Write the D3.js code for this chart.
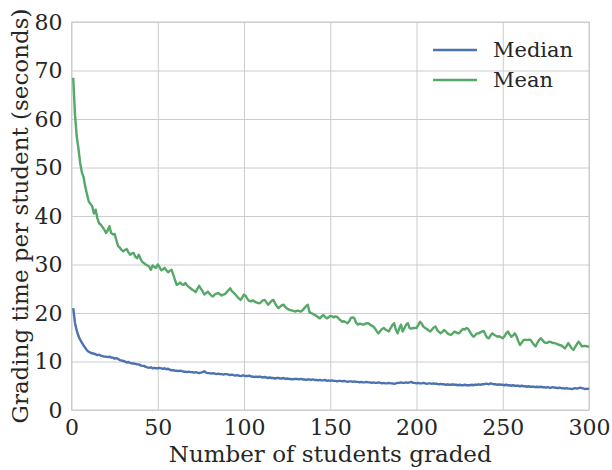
<!DOCTYPE html>
<html>
<head>
<meta charset="utf-8">
<script src="https://cdn.jsdelivr.net/npm/d3@7"></script>
<style>
  body { margin: 0; background: #fff; }
  svg text { font-family: "DejaVu Serif", serif; fill: #262626; }
</style>
</head>
<body>
<div id="chart"></div>
<script>
// Grading time per student (seconds), one value per student graded (1..300)
const medianTime = [
  21.0, 18.0, 16.4, 15.3, 14.5, 13.9, 13.3, 12.8, 12.3, 12.0,
  11.8, 11.7, 11.6, 11.5, 11.3, 11.4, 11.2, 11.1, 11.0, 11.0,
  10.9, 11.0, 10.8, 10.8, 10.6, 10.7, 10.5, 10.3, 10.2, 10.1,
  10.0, 9.8, 9.9, 9.7, 9.6, 9.6, 9.5, 9.4, 9.4, 9.2,
  9.1, 9.1, 8.9, 8.8, 8.7, 8.8, 8.6, 8.7, 8.6, 8.6,
  8.7, 8.6, 8.5, 8.6, 8.4, 8.5, 8.3, 8.2, 8.2, 8.1,
  8.1, 8.0, 8.1, 8.0, 7.9, 7.9, 7.8, 7.9, 7.8, 7.8,
  7.7, 7.8, 7.7, 7.6, 7.7, 7.8, 8.0, 7.7, 7.6, 7.6,
  7.5, 7.6, 7.5, 7.4, 7.5, 7.4, 7.4, 7.3, 7.4, 7.4,
  7.3, 7.2, 7.3, 7.2, 7.1, 7.2, 7.1, 7.0, 7.1, 7.1,
  7.0, 7.0, 7.1, 6.9, 6.9, 6.8, 6.9, 6.8, 6.9, 6.8,
  6.7, 6.8, 6.7, 6.6, 6.7, 6.6, 6.6, 6.5, 6.6, 6.6,
  6.5, 6.5, 6.6, 6.4, 6.5, 6.4, 6.4, 6.3, 6.4, 6.4,
  6.4, 6.3, 6.4, 6.3, 6.3, 6.2, 6.3, 6.3, 6.2, 6.3,
  6.2, 6.2, 6.1, 6.2, 6.1, 6.1, 6.2, 6.0, 6.1, 6.0,
  6.1, 6.0, 6.0, 5.9, 6.0, 6.0, 5.9, 6.0, 5.9, 5.8,
  5.9, 5.9, 5.8, 5.9, 5.8, 5.8, 5.7, 5.8, 5.7, 5.7,
  5.8, 5.7, 5.7, 5.6, 5.7, 5.6, 5.6, 5.7, 5.6, 5.5,
  5.6, 5.5, 5.5, 5.6, 5.5, 5.5, 5.4, 5.5, 5.6, 5.6,
  5.7, 5.6, 5.6, 5.7, 5.6, 5.7, 5.8, 5.6, 5.6, 5.5,
  5.6, 5.5, 5.5, 5.6, 5.5, 5.4, 5.5, 5.5, 5.4, 5.5,
  5.4, 5.4, 5.3, 5.4, 5.3, 5.3, 5.2, 5.3, 5.2, 5.2,
  5.3, 5.2, 5.2, 5.1, 5.2, 5.1, 5.1, 5.2, 5.1, 5.1,
  5.1, 5.2, 5.1, 5.2, 5.2, 5.3, 5.2, 5.3, 5.3, 5.4,
  5.4, 5.3, 5.5, 5.4, 5.3, 5.3, 5.2, 5.3, 5.2, 5.2,
  5.1, 5.2, 5.1, 5.1, 5.0, 5.1, 5.0, 5.0, 5.0, 4.9,
  5.0, 4.9, 4.9, 4.8, 4.9, 4.8, 4.8, 4.8, 4.7, 4.8,
  4.7, 4.8, 4.7, 4.7, 4.6, 4.7, 4.6, 4.6, 4.7, 4.6,
  4.6, 4.5, 4.6, 4.5, 4.5, 4.4, 4.5, 4.4, 4.4, 4.3,
  4.4, 4.5, 4.4, 4.5, 4.6, 4.5, 4.4, 4.3, 4.4, 4.3
];

const meanTime = [
  68.5, 61.0, 56.5, 54.0, 51.0, 49.0, 48.0, 46.0, 44.5, 43.0,
  42.5, 42.0, 40.5, 41.3, 39.5, 38.5, 38.2, 37.7, 37.2, 36.5,
  37.0, 37.9, 36.5, 36.2, 36.3, 35.0, 33.8, 33.5, 33.0, 32.7,
  33.0, 33.2, 32.5, 32.0, 32.3, 32.4, 31.6, 31.3, 32.0, 31.2,
  30.5, 30.3, 30.0, 29.8, 29.6, 28.9, 29.8, 29.5, 29.3, 30.0,
  29.5, 28.8, 29.0, 29.3, 28.8, 28.4, 28.7, 28.9, 27.9, 26.8,
  25.8, 26.0, 26.3, 25.9, 25.8, 26.2, 25.7, 25.4, 25.1, 24.8,
  24.6, 24.3, 25.0, 25.6, 25.0, 24.5, 23.8, 24.1, 24.4, 24.0,
  23.6, 23.4, 23.8, 24.0, 24.1, 23.9, 23.6, 23.8, 23.9, 24.3,
  24.7, 25.1, 24.5, 24.2, 23.8, 23.4, 23.0, 22.7, 23.2, 23.8,
  23.5, 22.9, 22.5, 22.4, 22.6, 22.4, 22.2, 22.1, 22.0, 22.3,
  22.6, 22.7, 22.2, 21.7, 22.1, 22.5, 22.7, 22.0, 21.4, 21.0,
  21.3, 21.6, 21.7, 21.2, 20.9, 20.7, 20.6, 20.5, 20.4, 20.3,
  20.5, 20.4, 20.3, 20.6, 21.0, 21.4, 21.7, 20.1, 20.0, 19.8,
  19.6, 19.4, 19.1, 18.9, 19.3, 19.6, 19.2, 18.9, 19.1, 19.4,
  19.3, 19.1, 19.3, 19.2, 18.8, 18.5, 18.2, 18.3, 18.1, 17.9,
  18.3, 19.0, 19.1, 18.9, 18.0, 17.6, 17.8, 17.7, 17.6, 17.7,
  17.9, 17.9, 17.6, 17.4, 17.2, 16.8, 16.2, 15.8, 16.3, 16.7,
  16.9, 16.6, 16.4, 16.2, 16.9, 17.5, 17.9, 16.6, 15.8, 16.8,
  17.6, 16.2, 16.9, 17.6, 17.9, 16.9, 16.8, 16.9, 16.9, 16.9,
  17.5, 18.2, 17.8, 17.2, 16.9, 16.7, 16.4, 16.2, 16.6, 17.0,
  17.2, 16.5, 16.1, 15.8, 16.1, 16.5, 16.2, 15.8, 15.6, 15.5,
  15.8, 16.2, 16.0, 15.8, 15.9, 16.4, 16.7, 16.6, 16.9, 16.7,
  16.1, 15.5, 15.1, 15.4, 15.8, 15.8, 16.0, 16.2, 16.3, 15.5,
  14.9, 14.8, 15.4, 15.8, 15.5, 15.3, 15.1, 15.2, 15.0, 14.8,
  15.2, 15.8, 16.2, 15.6, 15.1, 15.4, 15.8, 15.2, 14.2, 13.4,
  13.9, 14.4, 14.5, 14.4, 14.5, 14.5, 14.0, 13.5, 13.1, 13.8,
  14.4, 14.8, 14.4, 14.0, 13.8, 13.9, 14.1, 14.0, 13.8, 13.8,
  13.7, 13.5, 13.4, 13.3, 13.0, 12.7, 13.2, 13.8, 13.2, 12.7,
  12.4, 13.0, 13.6, 14.1, 13.6, 13.1, 13.2, 13.2, 13.1, 13.1
];

const seriesNames = ["Median", "Mean"];
const seriesColors = ["#4c72b0", "#55a868"];
const xTicks = [0, 50, 100, 150, 200, 250, 300];
const yTicks = [0, 10, 20, 30, 40, 50, 60, 70, 80];

const width = 612, height = 470;
const margin = { top: 22, right: 23, bottom: 60, left: 71.5 };

const series = [medianTime, meanTime].map((vals, k) => ({
  name: seriesNames[k],
  color: seriesColors[k],
  points: vals.map((v, i) => ({ n: i + 1, t: v }))
}));

const x = d3.scaleLinear().domain([0, 300]).range([margin.left, width - margin.right]);
const y = d3.scaleLinear().domain([0, 80]).range([height - margin.bottom, margin.top]);

const svg = d3.select("#chart").append("svg")
  .attr("width", width)
  .attr("height", height);

// grid + ticks
svg.append("g")
  .attr("transform", `translate(0,${height - margin.bottom})`)
  .call(d3.axisBottom(x).tickValues(xTicks).tickSize(-(height - margin.top - margin.bottom)).tickPadding(9).tickFormat(d3.format("d")))
  .call(g => g.select(".domain").remove())
  .call(g => g.selectAll("line").attr("stroke", "#cccccc"))
  .call(g => g.selectAll("text").attr("font-size", 22).attr("fill", "#262626").attr("font-family", "DejaVu Serif"));

svg.append("g")
  .attr("transform", `translate(${margin.left},0)`)
  .call(d3.axisLeft(y).tickValues(yTicks).tickSize(-(width - margin.left - margin.right)).tickPadding(9).tickFormat(d3.format("d")))
  .call(g => g.select(".domain").remove())
  .call(g => g.selectAll("line").attr("stroke", "#cccccc"))
  .call(g => g.selectAll("text").attr("font-size", 22).attr("fill", "#262626").attr("font-family", "DejaVu Serif"));

// frame
svg.append("rect")
  .attr("x", margin.left).attr("y", margin.top)
  .attr("width", width - margin.left - margin.right)
  .attr("height", height - margin.top - margin.bottom)
  .attr("fill", "none").attr("stroke", "#cccccc");

// lines
const line = d3.line().x(d => x(d.n)).y(d => y(d.t));
svg.append("g")
  .selectAll("path")
  .data(series)
  .join("path")
    .attr("d", d => line(d.points))
    .attr("fill", "none")
    .attr("stroke", d => d.color)
    .attr("stroke-width", 2.4)
    .attr("stroke-linejoin", "round");

// axis labels
svg.append("text")
  .attr("x", (margin.left + width - margin.right) / 2)
  .attr("y", 462)
  .attr("text-anchor", "middle")
  .attr("font-size", 23)
  .text("Number of students graded");

svg.append("text")
  .attr("transform", `translate(28,${(margin.top + height - margin.bottom) / 2}) rotate(-90)`)
  .attr("text-anchor", "middle")
  .attr("font-size", 23)
  .text("Grading time per student (seconds)");

// legend
const legend = svg.append("g")
  .selectAll("g")
  .data(series)
  .join("g")
    .attr("transform", (d, i) => `translate(433,${50 + i * 30})`);

legend.append("line")
  .attr("x1", 0).attr("x2", 44)
  .attr("stroke", d => d.color)
  .attr("stroke-width", 2.4);

legend.append("text")
  .attr("x", 60)
  .attr("dy", "0.35em")
  .attr("font-size", 21)
  .text(d => d.name);
</script>
</body>
</html>
